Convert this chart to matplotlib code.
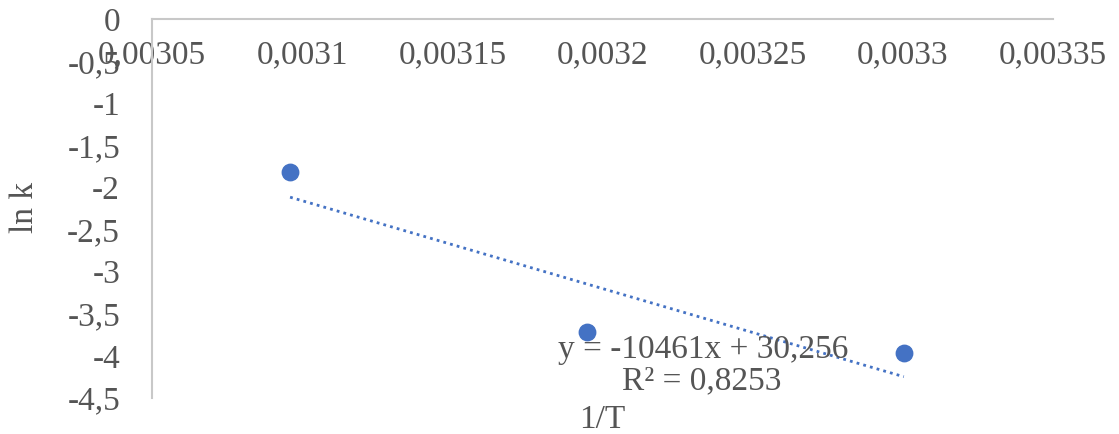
import numpy as np
import matplotlib
matplotlib.use("Agg")
import matplotlib.pyplot as plt
from matplotlib.ticker import FixedLocator, FuncFormatter

# 1/T for T = 323, 313, 303 K and the measured ln k
temps = [323, 313, 303]
inv_T = [1.0 / t for t in temps]
ln_k = [-1.82, -3.72, -3.97]

x_ticks = [0.00305, 0.0031, 0.00315, 0.0032, 0.00325, 0.0033, 0.00335]
y_ticks = [0, -0.5, -1, -1.5, -2, -2.5, -3, -3.5, -4, -4.5]
eq_text = "y = -10461x + 30,256"
r2_text = "R² = 0,8253"

BLUE = "#4472c4"
GREY = "#c8c8c8"
TXT = "#555555"
FS = 24
plt.rcParams['font.family'] = ['Liberation Serif', 'DejaVu Serif']

def comma_fmt(v, pos=None):
    s = "%g" % round(v, 6)
    return s.replace(".", ",")

fig = plt.figure(figsize=(11.19, 4.34), dpi=100)
ax = fig.add_axes([152/1119, 1-398/434, (1053-152)/1119, (398-19)/434])

ax.scatter(inv_T, ln_k, s=140, color=BLUE, zorder=3)

# linear trendline
coef = np.polyfit(inv_T, ln_k, 1)
xl = np.array([min(inv_T), max(inv_T)])
ax.plot(xl, np.polyval(coef, xl), linestyle=(0, (1, 1.5)), color=BLUE, lw=2)

ax.set_xlim(0.00305, 0.00335)
ax.set_ylim(-4.5, 0)
ax.xaxis.set_major_locator(FixedLocator(x_ticks))
ax.yaxis.set_major_locator(FixedLocator(y_ticks))
ax.xaxis.set_major_formatter(FuncFormatter(comma_fmt))
ax.yaxis.set_major_formatter(FuncFormatter(comma_fmt))

for s in ['top', 'right']:
    ax.spines[s].set_visible(False)
ax.spines['bottom'].set_position(('data', 0))
ax.spines['bottom'].set_color(GREY)
ax.spines['left'].set_color(GREY)
ax.spines['bottom'].set_linewidth(1.5)
ax.spines['left'].set_linewidth(1.5)
ax.tick_params(axis='both', length=0, labelsize=FS, labelcolor=TXT)
ax.tick_params(axis='x', pad=15)
ax.tick_params(axis='y', pad=23)

fig.text(703/1119, 1-350/434, eq_text, ha='center', va='center', fontsize=FS, color=TXT)
fig.text(702/1119, 1-381/434, r2_text, ha='center', va='center', fontsize=FS, color=TXT)
fig.text(602/1119, 1-420/434, "1/T", ha='center', va='center', fontsize=FS, color=TXT)
fig.text(25/1119, 1-207/434, "ln k", ha='center', va='center', rotation=90, fontsize=FS, color=TXT)

fig.savefig("out.png", dpi=100)
